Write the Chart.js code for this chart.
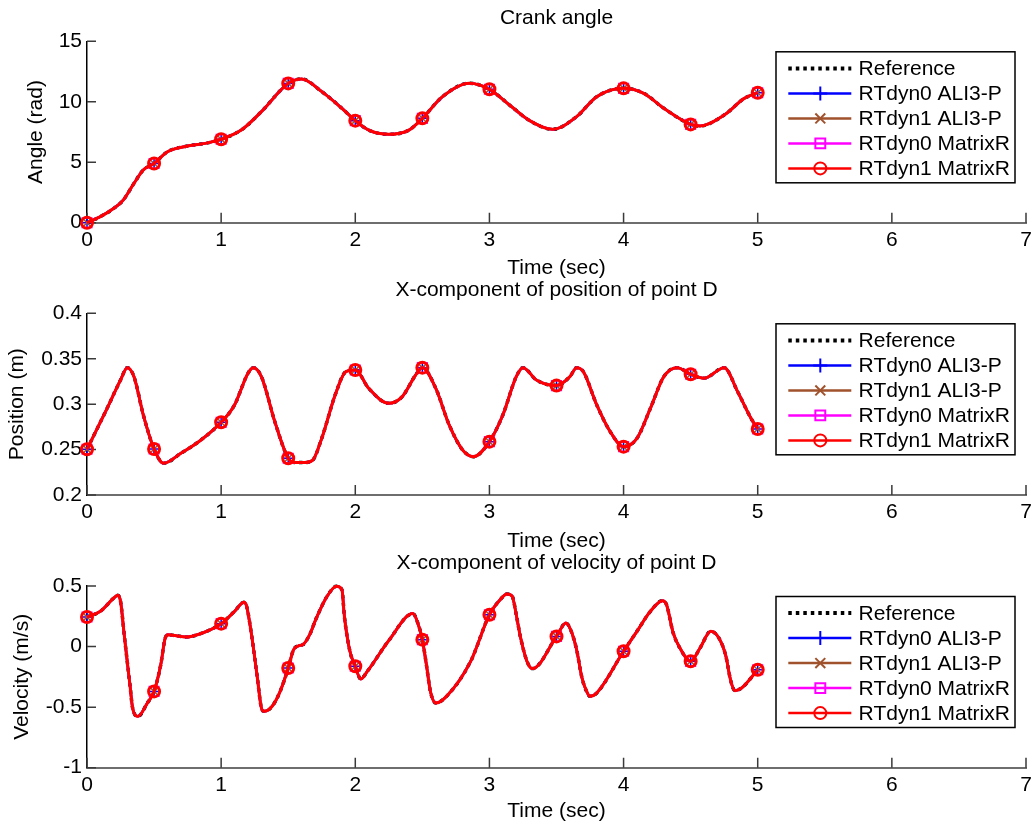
<!DOCTYPE html>
<html lang="en">
<head>
<meta charset="UTF-8">
<title>Crank angle / position / velocity of point D</title>
<script src="https://cdn.jsdelivr.net/npm/chart.js"></script>
<style>
  body { margin: 0; background: #fff; }
  #wrap { position: relative; width: 1032px; height: 824px; }
  canvas { position: absolute; left: 0; }
</style>
</head>
<body>
<div id="wrap">
  <canvas id="angleChart" width="1032" height="280" style="top:0"></canvas>
  <canvas id="posChart" width="1032" height="273" style="top:280px"></canvas>
  <canvas id="velChart" width="1032" height="271" style="top:553px"></canvas>
</div>
<script>
// values (time in sec)
const timeAngle = [0, 0.1, 0.2, 0.27, 0.35, 0.42, 0.5, 0.6, 0.75, 0.9, 1, 1.15, 1.3, 1.5, 1.6, 1.75, 1.9, 2, 2.1, 2.25, 2.4, 2.5, 2.65, 2.85, 3, 3.15, 3.3, 3.47, 3.65, 3.8, 4, 4.15, 4.3, 4.5, 4.57, 4.75, 4.9, 5];
const angle = [0, 0.5, 1.19, 1.87, 3.25, 4.36, 4.9, 5.87, 6.34, 6.6, 6.9, 7.66, 9.18, 11.52, 11.88, 10.84, 9.46, 8.44, 7.66, 7.31, 7.66, 8.63, 10.42, 11.53, 11.03, 9.73, 8.44, 7.72, 8.77, 10.42, 11.11, 10.7, 9.46, 8.13, 8.0, 8.9, 10.28, 10.75];

const timePos = [0, 0.15, 0.25, 0.3, 0.35, 0.42, 0.5, 0.57, 0.7, 0.85, 1, 1.1, 1.2, 1.24, 1.3, 1.4, 1.5, 1.55, 1.62, 1.68, 1.75, 1.85, 1.93, 2, 2.1, 2.25, 2.35, 2.45, 2.5, 2.6, 2.7, 2.8, 2.88, 3, 3.1, 3.2, 3.25, 3.35, 3.5, 3.6, 3.65, 3.7, 3.8, 3.9, 4, 4.1, 4.2, 4.3, 4.4, 4.5, 4.6, 4.75, 4.85, 4.95, 5];
const posX = [0.2503, 0.2954, 0.3266, 0.3402, 0.3303, 0.288, 0.2507, 0.2349, 0.2459, 0.2606, 0.28, 0.2991, 0.334, 0.3402, 0.3303, 0.2808, 0.2404, 0.2358, 0.2358, 0.238, 0.2624, 0.3101, 0.3358, 0.3376, 0.3174, 0.3009, 0.3083, 0.3321, 0.3402, 0.3174, 0.2771, 0.2496, 0.2422, 0.2587, 0.2881, 0.3303, 0.3402, 0.3266, 0.3204, 0.3303, 0.3402, 0.3358, 0.2991, 0.2698, 0.2532, 0.2624, 0.2954, 0.3303, 0.3402, 0.3329, 0.3285, 0.3402, 0.3138, 0.2844, 0.2727];

const timeVel = [0, 0.1, 0.2, 0.23, 0.25, 0.28, 0.32, 0.34, 0.38, 0.45, 0.5, 0.55, 0.58, 0.6, 0.64, 0.74, 0.84, 1, 1.1, 1.17, 1.19, 1.23, 1.27, 1.3, 1.32, 1.38, 1.44, 1.5, 1.54, 1.58, 1.61, 1.66, 1.71, 1.79, 1.86, 1.9, 1.92, 1.96, 2, 2.04, 2.09, 2.25, 2.43, 2.47, 2.5, 2.53, 2.56, 2.6, 2.68, 2.86, 3, 3.08, 3.13, 3.17, 3.2, 3.23, 3.28, 3.32, 3.5, 3.57, 3.61, 3.65, 3.69, 3.73, 3.75, 3.8, 4, 4.1, 4.2, 4.29, 4.32, 4.37, 4.42, 4.5, 4.57, 4.65, 4.71, 4.76, 4.8, 4.83, 4.88, 5];
const velX = [0.244, 0.291, 0.401, 0.423, 0.373, 0.071, -0.315, -0.507, -0.576, -0.466, -0.37, -0.149, 0.057, 0.098, 0.093, 0.079, 0.104, 0.189, 0.291, 0.365, 0.332, 0.071, -0.259, -0.507, -0.535, -0.493, -0.37, -0.177, -0.026, 0.007, 0.016, 0.098, 0.236, 0.415, 0.497, 0.47, 0.236, -0.039, -0.163, -0.268, -0.204, 0.05, 0.272, 0.181, 0.057, -0.149, -0.37, -0.466, -0.411, -0.122, 0.263, 0.387, 0.434, 0.415, 0.263, 0.085, -0.122, -0.182, 0.084, 0.195, 0.126, -0.026, -0.259, -0.383, -0.411, -0.383, -0.039, 0.126, 0.291, 0.379, 0.346, 0.112, -0.012, -0.122, -0.012, 0.126, 0.071, -0.067, -0.287, -0.364, -0.342, -0.191];

const xTicks = [0, 1, 2, 3, 4, 5, 6, 7];
const seriesNames = ['Reference', 'RTdyn0 ALI3-P', 'RTdyn1 ALI3-P', 'RTdyn0 MatrixR', 'RTdyn1 MatrixR'];

const FONT = 'Liberation Sans, Arial, sans-serif';
const FS = 21;

// marker only every 0.5 s, like the original plot
function markerAt(r) {
  return ctx => {
    const p = ctx.raw;
    if (!p) return 0;
    return Math.abs(p.x * 2 - Math.round(p.x * 2)) < 1e-6 ? r : 0;
  };
}

const seriesStyle = [
  { color: '#000000', width: 3.5, dash: [3.5, 4], style: false, radius: 0, lr: 0, pw: 0 },
  { color: '#0000ff', width: 2.5, dash: [], style: 'cross', radius: 5, lr: 7, pw: 1.5 },
  { color: '#a0522d', width: 2.5, dash: [], style: 'crossRot', radius: 6, lr: 7, pw: 1.5 },
  { color: '#ff00ff', width: 2.5, dash: [], style: 'rect', radius: 6.8, lr: 7, pw: 1.5 },
  { color: '#ff0000', width: 3, dash: [], style: 'circle', radius: 5.5, lr: 6, pw: 3 }
];

const fmt = v => String(+Number(v).toFixed(3));

// inward tick marks (MATLAB style)
const inwardTicks = {
  id: 'inwardTicks',
  beforeDatasetsDraw(chart) {
    const { ctx, chartArea: a, scales: { x, y } } = chart;
    ctx.save();
    ctx.lineWidth = 1.5;
    ctx.strokeStyle = '#3a3a3a';
    ctx.beginPath();
    x.ticks.forEach(t => {
      const px = x.getPixelForValue(t.value);
      ctx.moveTo(px, a.bottom);
      ctx.lineTo(px, a.bottom - 10);
    });
    y.ticks.forEach(t => {
      const py = y.getPixelForValue(t.value);
      ctx.moveTo(a.left, py);
      ctx.lineTo(a.left + 9, py);
    });
    ctx.stroke();
    ctx.restore();
  }
};

// boxed legend inside the axes, top right
const boxLegend = {
  id: 'boxLegend',
  afterDraw(chart) {
    const { ctx, chartArea: a } = chart;
    const w = 239, h = 131;
    const x0 = a.right - 11 - w, y0 = a.top + 10.5;
    ctx.save();
    ctx.fillStyle = '#fff';
    ctx.fillRect(x0, y0, w, h);
    ctx.lineWidth = 1.5;
    ctx.strokeStyle = '#000';
    ctx.strokeRect(x0, y0, w, h);
    chart.data.datasets.forEach((ds, i) => {
      const st = seriesStyle[i];
      const cy = y0 + 16.6 + i * 25;
      ctx.setLineDash(st.dash);
      ctx.lineWidth = i === 0 ? 4 : 2.5;
      ctx.strokeStyle = st.color;
      ctx.beginPath();
      ctx.moveTo(x0 + 12.3, cy);
      ctx.lineTo(x0 + 75.3, cy);
      ctx.stroke();
      ctx.setLineDash([]);
      if (st.style) {
        ctx.fillStyle = 'rgba(0,0,0,0)';
        ctx.lineWidth = 2;
        Chart.helpers.drawPoint(ctx, { pointStyle: st.style, radius: st.lr, rotation: 0, borderWidth: 2 }, x0 + 44.3, cy);
      }
      ctx.fillStyle = '#000';
      ctx.font = FS + 'px ' + FONT;
      ctx.textBaseline = 'middle';
      ctx.textAlign = 'left';
      ctx.fillText(ds.label, x0 + 82.6, cy + 1);
    });
    ctx.restore();
  }
};

function makeChart(id, times, values, o) {
  const pts = times.map((t, i) => ({ x: t, y: values[i] }));
  const datasets = seriesNames.map((name, i) => {
    const st = seriesStyle[i];
    return {
      label: name,
      data: pts,
      borderColor: st.color,
      backgroundColor: 'rgba(0,0,0,0)',
      borderWidth: st.width,
      borderDash: st.dash,
      pointStyle: st.style || 'circle',
      pointRadius: markerAt(st.radius),
      pointBorderWidth: st.pw,
      pointBorderColor: st.color,
      pointBackgroundColor: 'rgba(0,0,0,0)',
      cubicInterpolationMode: 'monotone',
      order: seriesNames.length - 1 - i,
      clip: false
    };
  });

  return new Chart(document.getElementById(id), {
    type: 'line',
    data: { datasets },
    options: {
      responsive: false,
      animation: false,
      devicePixelRatio: 1,
      events: [],
      layout: { autoPadding: false, padding: { left: 0, right: 6, top: 0, bottom: 0 } },
      plugins: {
        legend: { display: false },
        tooltip: { enabled: false },
        title: {
          display: true,
          text: o.title,
          fullSize: false,
          color: '#000',
          font: { family: FONT, size: FS, weight: 'normal', lineHeight: 1 },
          padding: { top: o.tPad[0], bottom: o.tPad[1] }
        }
      },
      scales: {
        x: {
          type: 'linear',
          min: 0,
          max: 7,
          afterBuildTicks: s => { s.ticks = xTicks.map(v => ({ value: v })); },
          afterFit: s => { s.height = o.xHeight; s.paddingLeft = 0; s.paddingRight = 0; },
          grid: { display: false, drawTicks: false },
          border: { display: true, color: '#6e6e6e', width: 2 },
          ticks: { color: '#000', padding: 5, font: { family: FONT, size: FS }, maxRotation: 0, callback: fmt },
          title: {
            display: true,
            text: 'Time (sec)',
            color: '#000',
            font: { family: FONT, size: FS, lineHeight: 1 },
            padding: { top: 0, bottom: o.xtPad }
          }
        },
        y: {
          min: o.yMin,
          max: o.yMax,
          afterBuildTicks: s => { s.ticks = o.yTicks.map(v => ({ value: v })); },
          afterFit: s => { s.width = 87; },
          grid: { display: false, drawTicks: false },
          border: { display: true, color: '#000', width: 1.5 },
          ticks: { color: '#000', padding: 5, font: { family: FONT, size: FS }, callback: fmt },
          title: {
            display: true,
            text: o.yTitle,
            color: '#000',
            font: { family: FONT, size: FS, lineHeight: 1 },
            padding: { top: o.ytPad, bottom: 0 }
          }
        }
      }
    },
    plugins: [inwardTicks, boxLegend]
  });
}

makeChart('angleChart', timeAngle, angle, {
  title: 'Crank angle', yTitle: 'Angle (rad)',
  yMin: 0, yMax: 15, yTicks: [0, 5, 10, 15],
  tPad: [7.3, 13], xHeight: 57.3, xtPad: 1.5, ytPad: 25.5
});
makeChart('posChart', timePos, posX, {
  title: 'X-component of position of point D', yTitle: 'Position (m)',
  yMin: 0.2, yMax: 0.4, yTicks: [0.2, 0.25, 0.3, 0.35, 0.4],
  tPad: [0, 12.3], xHeight: 58, xtPad: 1.5, ytPad: 6.5
});
makeChart('velChart', timeVel, velX, {
  title: 'X-component of velocity of point D', yTitle: 'Velocity (m/s)',
  yMin: -1, yMax: 0.5, yTicks: [-1, -0.5, 0, 0.5],
  tPad: [0, 12], xHeight: 56.3, xtPad: 1.8, ytPad: 12
});
</script>
</body>
</html>
